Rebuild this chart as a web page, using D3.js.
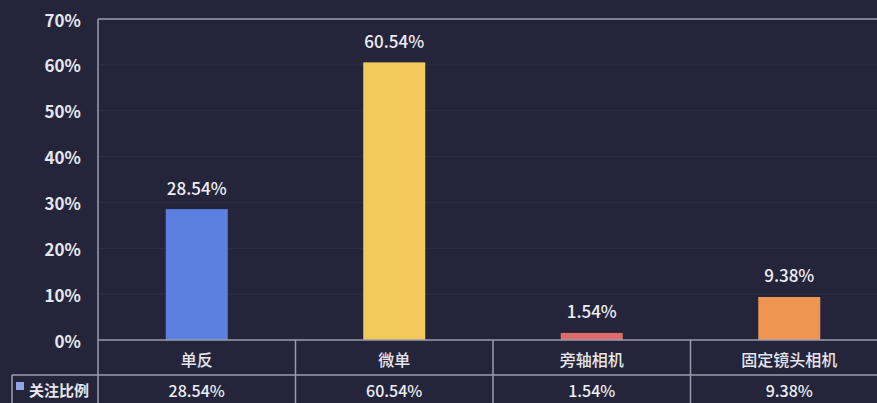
<!DOCTYPE html>
<html>
<head>
<meta charset="utf-8">
<script src="https://cdn.jsdelivr.net/npm/d3@7"></script>
<style>
  body { margin: 0; background: #24253a; }
  svg { display: block; }
</style>
</head>
<body>
<div id="chart"></div>
<script>
// chart data
const categories = ["单反", "微单", "旁轴相机", "固定镜头相机"];
const values = [28.54, 60.54, 1.54, 9.38];
const barColors = ["#5b80e0", "#f3c95c", "#e06a6a", "#ef9552"];
const yTicks = [0, 10, 20, 30, 40, 50, 60, 70];
const seriesName = "关注比例";

let width = 877, height = 403;
let margin = {top: 19, left: 98, bottom: 63};
let plotRight = 888;

let svg = d3.select("#chart")
  .append("svg")
    .attr("width", width)
    .attr("height", height)
    .style("font-family", "'Noto Sans CJK SC', 'Noto Sans', sans-serif");

svg.append("rect").attr("width", width).attr("height", height).attr("fill", "#24253a");

let y = d3.scaleLinear()
  .domain([0, 70])
  .range([height - margin.bottom, margin.top]);

let x = d3.scaleBand()
  .domain(categories)
  .range([margin.left, plotRight])
  .paddingInner(0)
  .paddingOuter(0);

let lineColor = "#9a9cb0";

// faint gridlines
svg.selectAll("grid")
  .data(yTicks.slice(1, -1))
  .enter().append("line")
    .attr("x1", margin.left).attr("x2", plotRight)
    .attr("y1", d => y(d)).attr("y2", d => y(d))
    .style("stroke", "#2f3048")
    .style("stroke-width", 1);

// y tick labels
svg.selectAll("ytick")
  .data(yTicks)
  .enter().append("text")
    .attr("x", 81)
    .attr("y", d => y(d))
    .attr("text-anchor", "end")
    .attr("dominant-baseline", "central")
    .style("font-size", "17px")
    .style("font-weight", "600")
    .style("fill", "#e6e7ee")
    .text(d => d + "%");

// bars
let barW = 62;
svg.selectAll("bar")
  .data(values)
  .enter().append("rect")
    .attr("x", (d, i) => x(categories[i]) + x.bandwidth() / 2 - barW / 2)
    .attr("y", d => y(d))
    .attr("width", barW)
    .attr("height", d => y(0) - y(d))
    .style("fill", (d, i) => barColors[i]);

// value labels
svg.selectAll("vlabel")
  .data(values)
  .enter().append("text")
    .attr("x", (d, i) => x(categories[i]) + x.bandwidth() / 2)
    .attr("y", d => y(d) - 22)
    .attr("text-anchor", "middle")
    .attr("dominant-baseline", "central")
    .style("font-size", "17px")
    .style("font-weight", "500")
    .style("fill", "#eeeef4")
    .text(d => d.toFixed(2) + "%");

// frame lines
let y0 = y(0), rowY = 375;
let frame = svg.append("g").style("stroke", lineColor).style("stroke-width", 1.5);
frame.append("line").attr("x1", margin.left).attr("x2", plotRight).attr("y1", margin.top).attr("y2", margin.top);
frame.append("line").attr("x1", margin.left).attr("x2", margin.left).attr("y1", margin.top).attr("y2", height);
frame.append("line").attr("x1", margin.left).attr("x2", plotRight).attr("y1", y0).attr("y2", y0);
frame.append("line").attr("x1", 12).attr("x2", plotRight).attr("y1", rowY).attr("y2", rowY);
frame.append("line").attr("x1", 12).attr("x2", 12).attr("y1", rowY).attr("y2", height);
frame.selectAll("sep")
  .data(categories.slice(1))
  .enter().append("line")
    .attr("x1", d => x(d)).attr("x2", d => x(d))
    .attr("y1", y0).attr("y2", height);

// category header
svg.selectAll("cat")
  .data(categories)
  .enter().append("text")
    .attr("x", d => x(d) + x.bandwidth() / 2)
    .attr("y", (y0 + rowY) / 2 + 1)
    .attr("text-anchor", "middle")
    .attr("dominant-baseline", "central")
    .style("font-size", "16px")
    .style("font-weight", "500")
    .style("fill", "#e6e7ee")
    .text(d => d);

// table row values
svg.selectAll("cell")
  .data(values)
  .enter().append("text")
    .attr("x", (d, i) => x(categories[i]) + x.bandwidth() / 2)
    .attr("y", rowY + 15)
    .attr("text-anchor", "middle")
    .attr("dominant-baseline", "central")
    .style("font-size", "16px")
    .style("font-weight", "500")
    .style("fill", "#eeeef4")
    .text(d => d.toFixed(2) + "%");

// legend key in table
svg.append("rect").attr("x", 16).attr("y", 382).attr("width", 8).attr("height", 8).style("fill", "#8fa6e6");
svg.append("text")
  .attr("x", 29).attr("y", rowY + 14)
  .attr("dominant-baseline", "central")
  .style("font-size", "15px")
  .style("font-weight", "bold")
  .style("fill", "#e6e7ee")
  .text(seriesName);
</script>
</body>
</html>
